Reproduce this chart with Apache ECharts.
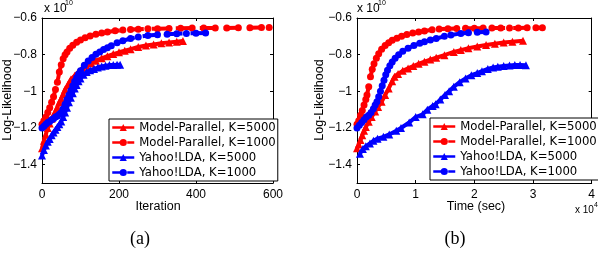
<!DOCTYPE html>
<html><head><meta charset="utf-8">
<script src="https://cdn.jsdelivr.net/npm/echarts@6/dist/echarts.min.js"></script>
<style>html,body{margin:0;padding:0;background:#fff}#c{width:598px;height:254px}</style>
</head><body><div id="c"></div>
<script>
// ---- Data (a): Log-likelihood (x 1e10) vs iteration ----
const iterMP5000 = [0,5,10,15,20,25,30,35,40,45,50,55,60,67,75,85,95,105,115,128,140,155,170,185,200,215,230,250,270,290,310,330,350,366];
const llIterMP5000 = [-1.31,-1.27,-1.235,-1.20,-1.175,-1.15,-1.13,-1.11,-1.085,-1.06,-1.04,-1.015,-0.99,-0.965,-0.935,-0.915,-0.893,-0.872,-0.86,-0.847,-0.833,-0.82,-0.808,-0.797,-0.787,-0.778,-0.77,-0.758,-0.75,-0.744,-0.738,-0.733,-0.729,-0.726];
const iterMP1000 = [0,5,10,15,20,25,30,35,40,45,50,55,60,65,72,80,90,100,112,125,140,155,170,190,210,230,250,275,300,330,360,390,420,450,480,510,540,570,590];
const llIterMP1000 = [-1.18,-1.16,-1.14,-1.115,-1.09,-1.06,-1.03,-0.99,-0.95,-0.895,-0.855,-0.822,-0.80,-0.785,-0.765,-0.748,-0.732,-0.72,-0.708,-0.698,-0.689,-0.682,-0.676,-0.67,-0.666,-0.663,-0.661,-0.659,-0.658,-0.657,-0.656,-0.655,-0.655,-0.654,-0.654,-0.653,-0.653,-0.652,-0.652];
const iterY5000 = [0,5,10,15,20,25,30,35,40,45,50,55,60,65,70,75,80,85,90,95,100,108,116,125,135,145,155,165,175,185,195,203];
const llIterY5000 = [-1.35,-1.32,-1.295,-1.275,-1.26,-1.24,-1.225,-1.21,-1.195,-1.18,-1.165,-1.14,-1.115,-1.09,-1.06,-1.035,-1.01,-0.985,-0.965,-0.945,-0.93,-0.91,-0.895,-0.885,-0.878,-0.87,-0.864,-0.86,-0.857,-0.856,-0.855,-0.855];
const iterY1000 = [0,5,10,15,20,25,30,35,40,45,50,55,60,65,70,75,80,85,90,95,100,110,120,130,140,150,160,170,180,195,210,230,250,275,300,325,350,375,400,425];
const llIterY1000 = [-1.20,-1.19,-1.18,-1.17,-1.165,-1.155,-1.15,-1.14,-1.135,-1.125,-1.115,-1.095,-1.07,-1.045,-1.02,-0.995,-0.97,-0.945,-0.925,-0.905,-0.888,-0.858,-0.835,-0.815,-0.798,-0.785,-0.772,-0.762,-0.752,-0.735,-0.724,-0.712,-0.703,-0.696,-0.691,-0.688,-0.686,-0.684,-0.683,-0.682];

// ---- Data (b): Log-likelihood (x 1e10) vs time (sec) ----
const timeMP5000 = [0,300,600,900,1200,1500,2000,2500,3100,3600,4200,4800,5400,6000,6400,7000,7800,8700,9600,10500,11500,12500,13500,14900,16500,17700,19000,20500,22000,23500,25000,26500,28300];
const llTimeMP5000 = [-1.31,-1.29,-1.265,-1.24,-1.215,-1.195,-1.166,-1.14,-1.11,-1.085,-1.057,-1.02,-0.985,-0.945,-0.92,-0.905,-0.888,-0.875,-0.862,-0.85,-0.838,-0.827,-0.817,-0.803,-0.785,-0.775,-0.765,-0.755,-0.747,-0.74,-0.734,-0.729,-0.724];
const timeMP1000 = [0,300,600,900,1200,1500,1700,2000,2300,2600,2900,3300,3700,4200,4800,5400,6000,6800,7600,8500,9500,10500,11500,12800,14000,15500,17000,18500,20000,21500,23000,24500,26000,27500,29000,30500,31600];
const llTimeMP1000 = [-1.18,-1.16,-1.13,-1.105,-1.075,-1.045,-1.02,-0.975,-0.92,-0.88,-0.85,-0.82,-0.795,-0.77,-0.75,-0.735,-0.722,-0.71,-0.70,-0.69,-0.682,-0.676,-0.671,-0.664,-0.66,-0.658,-0.657,-0.656,-0.656,-0.655,-0.655,-0.654,-0.654,-0.654,-0.653,-0.653,-0.653];
const timeY5000 = [500,1000,1500,2200,2800,3500,4500,5500,6700,7500,8900,10000,11200,12000,12900,13400,14200,15000,15700,16500,17500,18500,19500,20500,21300,22300,23200,24000,25000,26000,26900,27800,28800];
const llTimeY5000 = [-1.34,-1.315,-1.30,-1.284,-1.27,-1.258,-1.248,-1.235,-1.215,-1.20,-1.17,-1.14,-1.125,-1.10,-1.08,-1.07,-1.045,-1.02,-1.0,-0.975,-0.95,-0.93,-0.912,-0.9,-0.89,-0.878,-0.87,-0.866,-0.862,-0.859,-0.857,-0.857,-0.858];
const timeY1000 = [0,400,800,1200,1600,2000,2400,2800,3100,3400,3700,4000,4300,4600,4900,5200,5600,6000,6500,7100,7800,8700,9700,10700,11500,12500,13500,14900,16000,17700,19000,20500,22000];
const llTimeY1000 = [-1.20,-1.185,-1.17,-1.155,-1.14,-1.13,-1.115,-1.095,-1.075,-1.057,-1.03,-1.0,-0.97,-0.94,-0.91,-0.885,-0.86,-0.84,-0.82,-0.80,-0.782,-0.765,-0.75,-0.738,-0.73,-0.72,-0.712,-0.70,-0.693,-0.684,-0.68,-0.678,-0.677];

// ---- Labels ----
const seriesNames = ['Model-Parallel, K=5000','Model-Parallel, K=1000','Yahoo!LDA, K=5000','Yahoo!LDA, K=1000'];
const yTicks = [-1.4,-1.2,-1,-0.8,-0.6];
const iterTicks = [0,200,400,600];
const timeTicks = [0,10000,20000,30000,40000];
const panelLabels = ['(a)','(b)'];
const xTitles = ['Iteration','Time (sec)'];
const yTitle = 'Log-Likelihood';

const FONT = 'Liberation Sans';
const zip = (a,b) => a.map((v,i)=>[v,b[i]]);
const styles = [
  {color:'#ff0000', symbol:'triangle', size:8, type:'solid'},
  {color:'#ff0000', symbol:'circle', size:7, type:'dashed'},
  {color:'#0000ff', symbol:'triangle', size:8, type:'solid'},
  {color:'#0000ff', symbol:'circle', size:7, type:'dashed'}
];
const panelData = [
  [zip(iterMP5000,llIterMP5000), zip(iterMP1000,llIterMP1000), zip(iterY5000,llIterY5000), zip(iterY1000,llIterY1000)],
  [zip(timeMP5000,llTimeMP5000), zip(timeMP1000,llTimeMP1000), zip(timeY5000,llTimeY5000), zip(timeY1000,llTimeY1000)]
];
const fmtY = v => (v<0?'\u2212':'') + String(Math.abs(Math.round(v*10)/10));

const grids = [
  {left:42, top:18, width:231, height:165},
  {left:357, top:18, width:238, height:165}
];
const xRanges = [{min:0,max:600,interval:200,fmt:v=>String(v)},
                 {min:0,max:40000,interval:10000,fmt:v=>String(v/10000)}];

const xAxes = [], yAxes = [], series = [];
grids.forEach((g,gi)=>{
  const xr = xRanges[gi];
  ['bottom','top'].forEach(pos=>{
    xAxes.push({type:'value', gridIndex:gi, position:pos, min:xr.min, max:xr.max, interval:xr.interval,
      axisLine:{show:true, onZero:false, lineStyle:{color:'#000',width:1}},
      axisTick:{show:true, inside:true, length:3, lineStyle:{color:'#000'}},
      axisLabel:{show:pos==='bottom', margin:6, color:'#000', fontFamily:FONT, fontSize:12, formatter:xr.fmt},
      splitLine:{show:false}});
  });
  ['left','right'].forEach(pos=>{
    yAxes.push({type:'value', gridIndex:gi, position:pos, min:-1.5, max:-0.6,
      axisLine:{show:true, onZero:false, lineStyle:{color:'#000',width:1}},
      axisTick:{show:true, inside:true, length:3, customValues:yTicks, lineStyle:{color:'#000'}},
      axisLabel:{show:pos==='left', margin:5, color:'#000', fontFamily:FONT, fontSize:12, customValues:yTicks, formatter:fmtY},
      splitLine:{show:false}});
  });
  panelData[gi].forEach((d,si)=>{
    const s = styles[si];
    series.push({type:'line', name:seriesNames[si], xAxisIndex:gi*2, yAxisIndex:gi*2, data:d,
      symbol:s.symbol, symbolSize:s.size, showSymbol:true, silent:true,
      itemStyle:{color:s.color, borderWidth:0},
      lineStyle:{color:s.color, width:4, type:s.type}, z:2+si});
  });
});

const legendCommon = {orient:'vertical', data:seriesNames, itemWidth:22, itemHeight:9, itemGap:0,
  padding:[1,2,1,2], borderColor:'#000', borderWidth:1, backgroundColor:'#fff', selectedMode:false,
  lineStyle:{width:2.5},
  textStyle:{fontFamily:'DejaVu Sans', fontSize:11.7, color:'#000', lineHeight:15}};

const txt = (x,y,text,size,extra) => Object.assign({type:'text', x:x, y:y, silent:true,
  style:Object.assign({text:text, fontFamily:FONT, fontSize:size, fill:'#000'}, extra||{})});

const graphic = [
  txt(44,3,'x 10',12), txt(65,0,'10',7),
  txt(357,3,'x 10',12), txt(378,0,'10',7),
  txt(575,205,'x 10',10), txt(594,202,'4',7),
  txt(158,200,xTitles[0],12.5,{align:'center'}),
  txt(476,200,xTitles[1],12.5,{align:'center'}),
  Object.assign(txt(8,100,yTitle,12.5,{align:'center', verticalAlign:'middle'}),{rotation:Math.PI/2}),
  Object.assign(txt(320,100,yTitle,12.5,{align:'center', verticalAlign:'middle'}),{rotation:Math.PI/2}),
  txt(140,239,panelLabels[0],18,{align:'center', verticalAlign:'middle', fontFamily:'Liberation Serif'}),
  txt(455,239,panelLabels[1],18,{align:'center', verticalAlign:'middle', fontFamily:'Liberation Serif'})
];

const chart = echarts.init(document.getElementById('c'), null, {renderer:'canvas'});
chart.setOption({
  animation:false, backgroundColor:'#fff',
  grid: grids.map(g=>Object.assign({show:false, containLabel:false}, g)),
  xAxis:xAxes, yAxis:yAxes, series:series,
  legend:[Object.assign({left:109, top:119}, legendCommon), Object.assign({left:430, top:118}, legendCommon)],
  graphic:graphic
});
</script></body></html>
